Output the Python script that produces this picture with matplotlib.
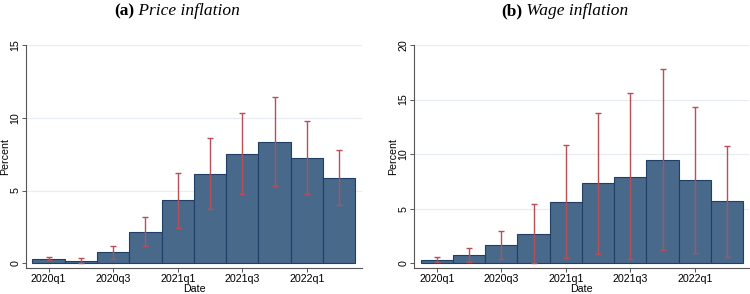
import matplotlib
matplotlib.use("Agg")
import matplotlib.pyplot as plt
import numpy as np

quarters = ["2020q1", "2020q2", "2020q3", "2020q4", "2021q1", "2021q2",
            "2021q3", "2021q4", "2022q1", "2022q2"]
tick_labels = ["2020q1", "2020q3", "2021q1", "2021q3", "2022q1"]

price_mean = [0.30, 0.16, 0.75, 2.14, 4.33, 6.13, 7.52, 8.37, 7.27, 5.88]
price_lo = [0.23, 0.00, 0.27, 1.19, 2.46, 3.72, 4.74, 5.31, 4.74, 3.99]
price_hi = [0.45, 0.36, 1.21, 3.15, 6.22, 8.59, 10.33, 11.42, 9.80, 7.80]

wage_mean = [0.27, 0.70, 1.64, 2.68, 5.60, 7.31, 7.91, 9.47, 7.58, 5.66]
wage_lo = [0.06, 0.06, 0.33, -0.03, 0.46, 0.82, 0.33, 1.22, 0.91, 0.55]
wage_hi = [0.52, 1.34, 2.98, 5.42, 10.81, 13.76, 15.59, 17.78, 14.28, 10.78]

BAR = "#48698a"
EDGE = "#1f3f66"
ERR = "#b5505a"
GRID = "#e6ecf1"
SPINE = "#555555"
FS = 7.7

fig = plt.figure(figsize=(7.5, 2.94), dpi=100)


def panel(rect, mean, lo, hi, yticks, ylim, xlim, letter, name, title_x):
    ax = fig.add_axes(rect)
    x = np.arange(len(quarters))
    mean = np.array(mean)
    lo = np.array(lo)
    hi = np.array(hi)
    for yt in yticks[1:]:
        ax.axhline(yt, color=GRID, lw=0.8, zorder=0)
    ax.bar(x, mean, width=1.0, color=BAR, edgecolor=EDGE, linewidth=0.8, zorder=2)
    ax.errorbar(x, mean, yerr=[mean - lo, hi - mean], fmt="none", ecolor=ERR,
                elinewidth=1.0, capsize=2.5, capthick=1.0, zorder=3)
    ax.set_xlim(*xlim)
    ax.set_ylim(*ylim)
    ax.set_yticks(yticks)
    ax.set_yticklabels([str(v) for v in yticks], rotation=90, va="center",
                       fontsize=FS, family="Liberation Sans")
    ax.set_xticks(x[::2])
    ax.set_xticklabels(tick_labels, fontsize=FS, family="Liberation Sans")
    ax.tick_params(length=3, width=0.7, color=SPINE, pad=1.0)
    for s in ["top", "right"]:
        ax.spines[s].set_visible(False)
    for s in ["left", "bottom"]:
        ax.spines[s].set_color(SPINE)
        ax.spines[s].set_linewidth(0.8)
    ax.spines["left"].set_bounds(ylim[0], yticks[-1])
    ax.set_xlabel("Date", fontsize=FS, family="Liberation Sans", labelpad=0.3)
    ax.set_ylabel("Percent", fontsize=FS, family="Liberation Sans", labelpad=0.5)
    t1 = fig.text(title_x, 1 - 15 / 294, letter, fontsize=12.5, fontweight="bold",
                  family="Liberation Serif", ha="left", va="baseline")
    ax.annotate(" " + name, xy=(1, 0), xycoords=t1, fontsize=12.5,
                style="italic", family="Liberation Serif", ha="left", va="bottom")
    return ax


panel([26 / 750, 26 / 294, 336 / 750, 223 / 294], price_mean, price_lo, price_hi,
      [0, 5, 10, 15], (-0.32, 15), (-0.70, 9.71), "(a)", "Price inflation", 114 / 750)
panel([414 / 750, 26 / 294, 335 / 750, 223 / 294], wage_mean, wage_lo, wage_hi,
      [0, 5, 10, 15, 20], (-0.45, 20), (-0.71, 9.68), "(b)", "Wage inflation", 501 / 750)

fig.savefig("out.png", dpi=100)
